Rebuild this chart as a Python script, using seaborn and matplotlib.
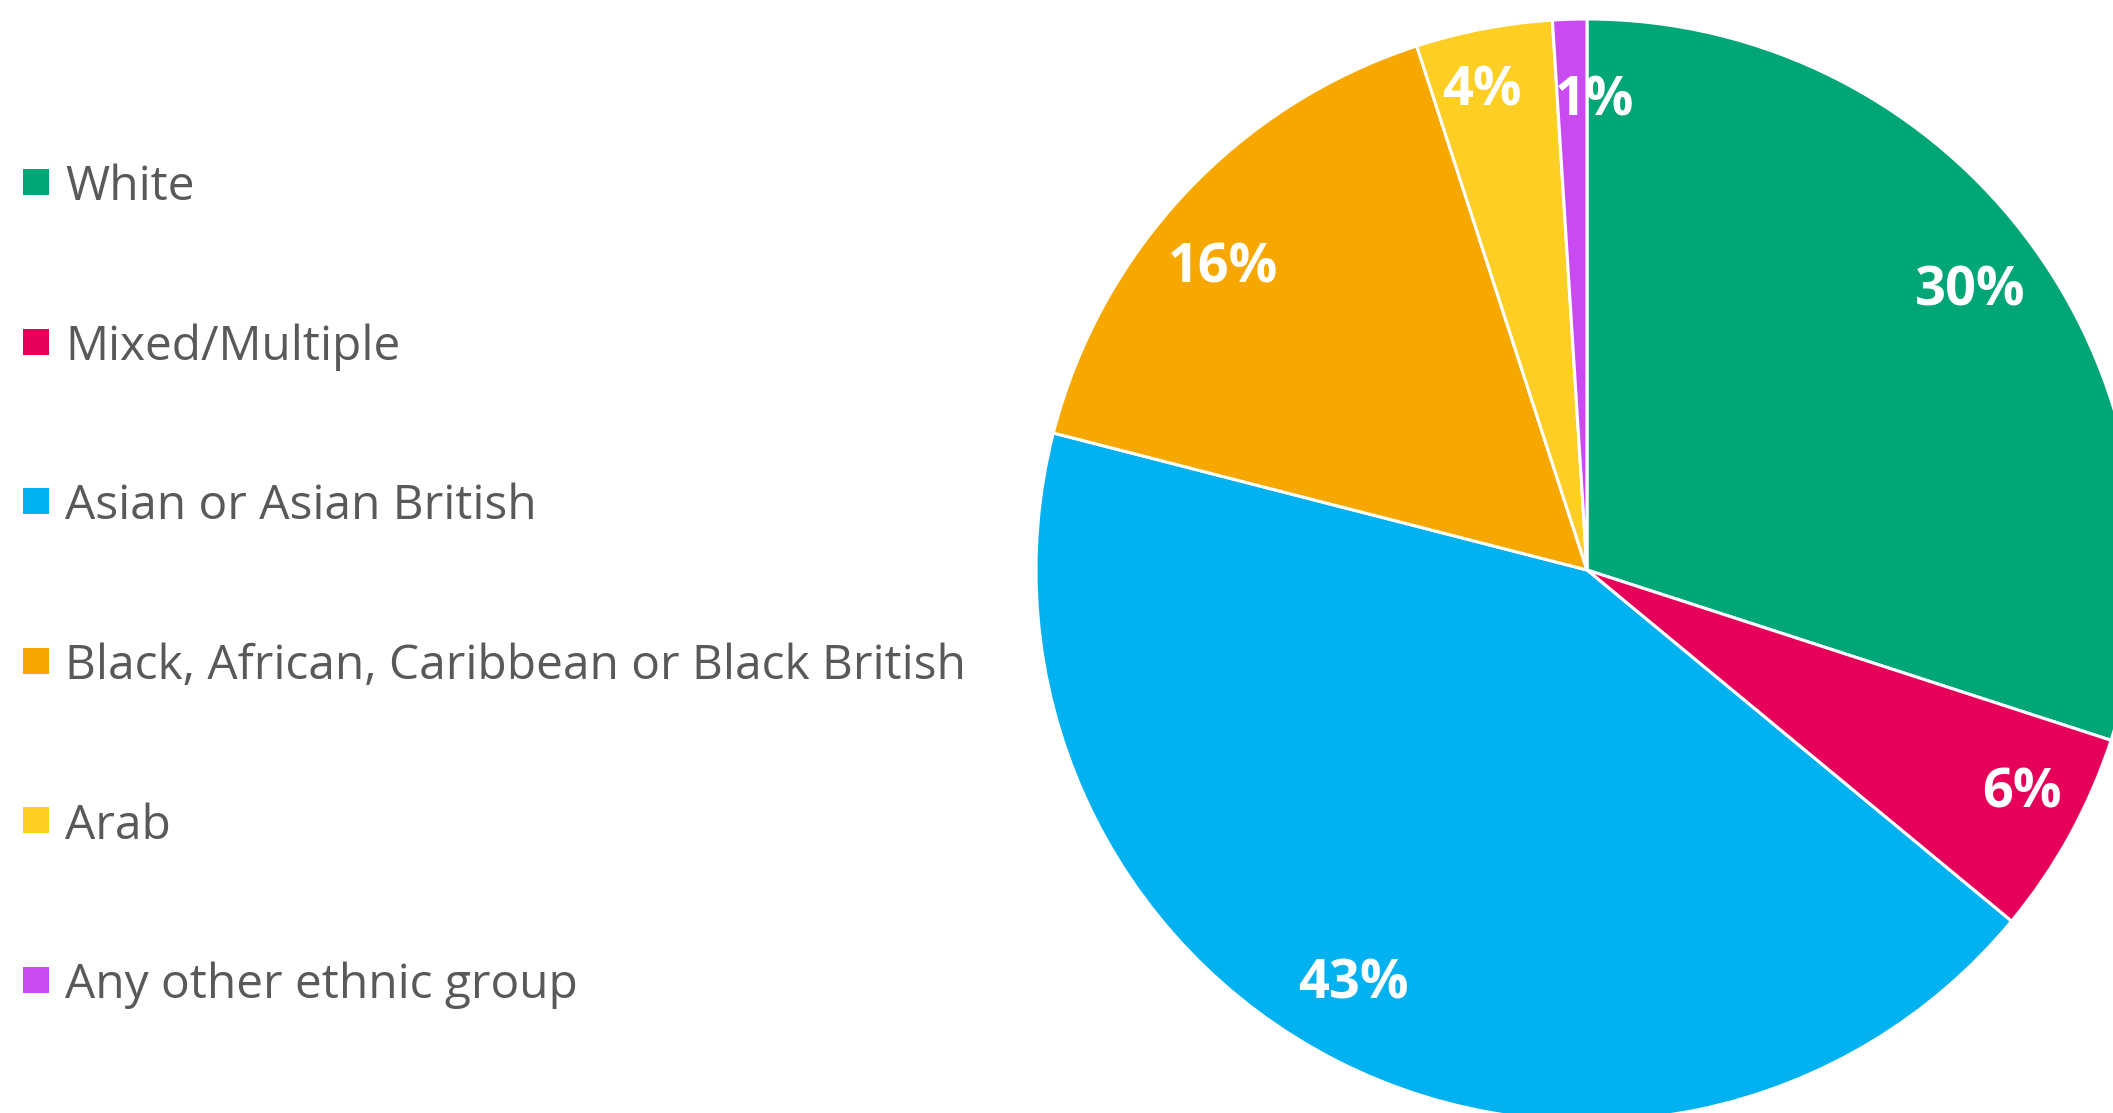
import matplotlib
matplotlib.use("Agg")
import matplotlib.pyplot as plt
from matplotlib.patches import Rectangle
import seaborn as sns

categories = [
    "White",
    "Mixed/Multiple",
    "Asian or Asian British",
    "Black, African, Caribbean or Black British",
    "Arab",
    "Any other ethnic group",
]
shares = [30, 6, 43, 16, 4, 1]
colors = ["#00A676", "#E6005A", "#02B1F0", "#F6A800", "#FDCF24", "#C84AF0"]

sns.set_theme(style="white")
plt.rcParams["font.family"] = ["Open Sans", "DejaVu Sans"]

W, H = 2113, 1113
fig = plt.figure(figsize=(W / 100, H / 100), dpi=100)
ax = fig.add_axes([0, 0, 1, 1])

# pie drawn in pixel-like data units so it can run off the right and bottom edges
cx, cy, r = 1587, H - 570, 551
wedges, _, autotexts = ax.pie(
    shares,
    colors=colors,
    startangle=90,
    counterclock=False,
    center=(cx, cy),
    radius=r,
    autopct=lambda p: f"{p:.0f}%",
    pctdistance=0.86,
    wedgeprops=dict(edgecolor="white", linewidth=2.2),
    textprops=dict(color="white", fontsize=39, fontweight="bold"),
    frame=True,
)

# small nudges so the narrow-slice labels do not collide
label_nudge = [(0, 0), (20, 5), (-18, 8), (-19, -23), (-16, 13), (22, -5)]
for t, (dx, dy) in zip(autotexts, label_nudge):
    x, y = t.get_position()
    t.set_position((x + dx, y + dy))

ax.set_xlim(0, W)
ax.set_ylim(0, H)
ax.set_aspect("equal")
ax.axis("off")

# legend: coloured squares with grey labels down the left side
row0, step = 182, 159.6
sq = 26
for i, (name, col) in enumerate(zip(categories, colors)):
    y = H - (row0 + i * step)
    ax.add_patch(Rectangle((23, y - sq / 2), sq, sq, facecolor=col, edgecolor="none"))
    ax.text(65, y, name, fontsize=34.5, color="#595959", va="center_baseline", ha="left")

fig.savefig("out.png", dpi=100)
